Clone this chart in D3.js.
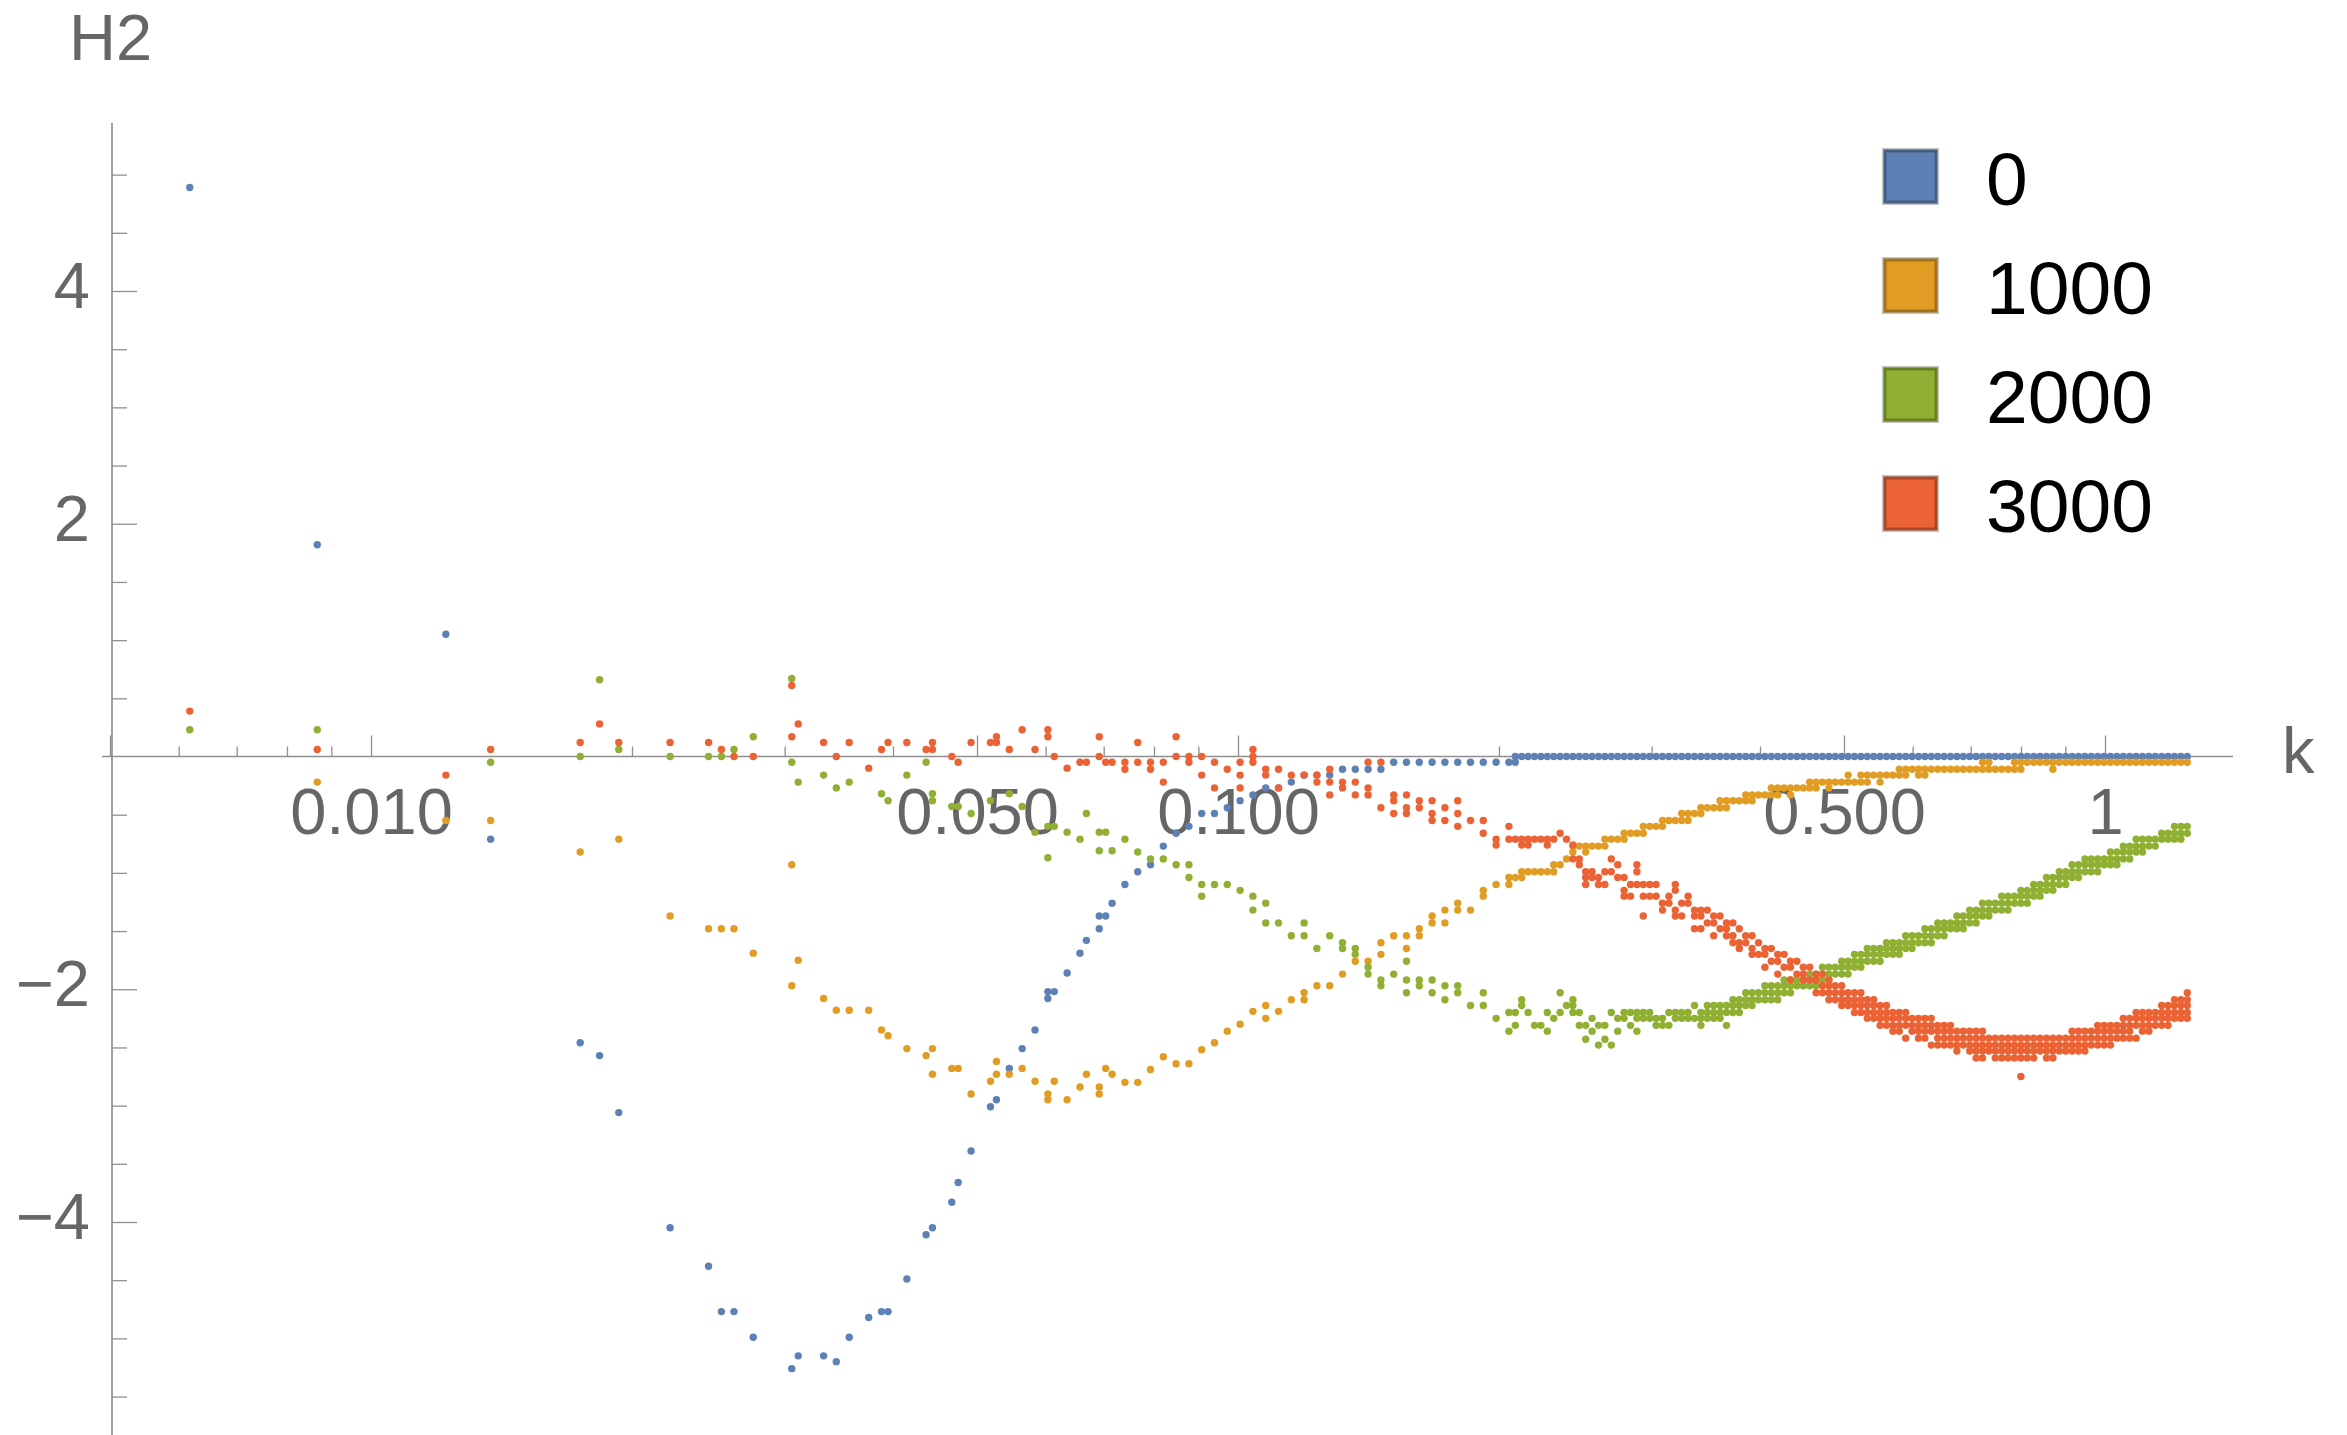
<!DOCTYPE html>
<html>
<head>
<meta charset="utf-8">
<script src="https://cdn.jsdelivr.net/npm/d3@7"></script>
<style>
  html, body { margin: 0; padding: 0; background: #fff; }
  svg { display: block; }
</style>
</head>
<body>
<svg id="chart"></svg>
<script>
// legend / series
const seriesNames = ['0', '1000', '2000', '3000'];
const seriesColors = ['#5E81B5', '#E19C24', '#8FB032', '#EB6235'];

// ticks
const xMajor = [0.005, 0.01, 0.05, 0.1, 0.5, 1];
const xMajorLabels = ['', '0.010', '0.050', '0.100', '0.500', '1'];
const xMinor = [0.006, 0.007, 0.008, 0.009, 0.02, 0.03, 0.04, 0.06, 0.07, 0.08, 0.09,
                0.2, 0.3, 0.4, 0.6, 0.7, 0.8, 0.9];
const yMajor = [-4, -2, 2, 4];
const yMinor = [-5.5, -5, -4.5, -3.5, -3, -2.5, -1.5, -1, -0.5, 0.5, 1, 1.5, 2.5, 3, 3.5, 4.5, 5];

// low-k points, [k, H2]
const blueLow = [[0.00618, 4.89], [0.00867, 1.82], [0.0122, 1.05], [0.01374, -0.71], [0.01743, -2.46],
  [0.01835, -2.57], [0.01931, -3.06], [0.02213, -4.05], [0.02451, -4.38], [0.02536, -4.77], [0.02622, -4.77],
  [0.0276, -4.99], [0.03057, -5.26], [0.0311, -5.15], [0.03327, -5.15], [0.03441, -5.2], [0.03561, -4.99],
  [0.0375, -4.82], [0.0388, -4.77], [0.03948, -4.77], [0.0415, -4.49], [0.04368, -4.11], [0.04442, -4.05],
  [0.04676, -3.83], [0.04756, -3.66], [0.04922, -3.39], [0.05182, -3.01], [0.05265, -2.95], [0.05448, -2.68],
  [0.05637, -2.51], [0.05833, -2.35], [0.06035, -2.02], [0.06035, -2.08], [0.06139, -2.02], [0.06352, -1.86],
  [0.06573, -1.69], [0.06686, -1.58], [0.06918, -1.37], [0.06918, -1.48], [0.07037, -1.37], [0.07158, -1.26]];
const orangeLow = [[0.00867, -0.22], [0.0122, -0.55], [0.01374, -0.55], [0.01743, -0.82], [0.01931, -0.71],
  [0.02213, -1.37], [0.02451, -1.48], [0.02536, -1.48], [0.02622, -1.48], [0.0276, -1.69], [0.03057, -0.93],
  [0.03057, -1.97], [0.0311, -1.75], [0.03327, -2.08], [0.03441, -2.18], [0.03561, -2.18], [0.0375, -2.18],
  [0.0388, -2.35], [0.03948, -2.4], [0.0415, -2.51], [0.04368, -2.57], [0.04442, -2.51], [0.04442, -2.73],
  [0.04676, -2.68], [0.04756, -2.68], [0.04922, -2.9], [0.05182, -2.79], [0.05265, -2.62], [0.05265, -2.73],
  [0.05448, -2.73], [0.05637, -2.68], [0.05833, -2.79], [0.06035, -2.9], [0.06035, -2.95], [0.06139, -2.79],
  [0.06352, -2.95], [0.06573, -2.84], [0.06686, -2.73], [0.06918, -2.84], [0.06918, -2.9], [0.07037, -2.68],
  [0.07158, -2.73]];
const greenLow = [[0.00618, 0.23], [0.00867, 0.23], [0.01374, -0.05], [0.01743, 0.0], [0.01835, 0.66],
  [0.01931, 0.06], [0.02213, 0.0], [0.02451, 0.0], [0.02536, 0.0], [0.02622, 0.06], [0.0276, 0.17],
  [0.03057, 0.67], [0.03057, -0.05], [0.0311, -0.22], [0.03327, -0.16], [0.03441, -0.27], [0.03561, -0.22],
  [0.0388, -0.32], [0.03948, -0.38], [0.0415, -0.16], [0.04368, -0.05], [0.04442, -0.32], [0.04442, -0.38],
  [0.04676, -0.43], [0.04756, -0.43], [0.04922, -0.49], [0.05182, -0.38], [0.05448, -0.32], [0.05637, -0.43],
  [0.05833, -0.65], [0.06035, -0.6], [0.06035, -0.87], [0.06139, -0.6], [0.06352, -0.65], [0.06573, -0.71],
  [0.06686, -0.49], [0.06918, -0.65], [0.06918, -0.81], [0.07037, -0.65], [0.07158, -0.81]];
const redLow = [[0.00618, 0.39], [0.00867, 0.06], [0.0122, -0.16], [0.01374, 0.06], [0.01743, 0.12],
  [0.01835, 0.28], [0.01931, 0.12], [0.02213, 0.12], [0.02451, 0.12], [0.02536, 0.06], [0.02622, 0.0],
  [0.0276, 0.0], [0.03057, 0.61], [0.03057, 0.17], [0.0311, 0.28], [0.03327, 0.12], [0.03441, 0.0],
  [0.03561, 0.12], [0.0375, -0.1], [0.0388, 0.06], [0.03948, 0.12], [0.0415, 0.12], [0.04368, 0.06],
  [0.04442, 0.06], [0.04442, 0.12], [0.04676, 0.0], [0.04756, -0.05], [0.04922, 0.12], [0.05182, 0.12],
  [0.05265, 0.17], [0.05265, 0.12], [0.05448, 0.06], [0.05637, 0.23], [0.05833, 0.06], [0.06035, 0.23],
  [0.06035, 0.17], [0.06139, 0.0], [0.06352, -0.1], [0.06573, -0.05], [0.06686, -0.05], [0.06918, 0.17],
  [0.06918, 0.0], [0.07037, -0.05], [0.07158, -0.05]];

// high-k columns: shared k values, then the H2 values seen in each column
const kHigh = [0.07406, 0.07662, 0.07927, 0.08201, 0.08484, 0.08778, 0.09081, 0.09395, 0.0972, 0.10056,
  0.10404, 0.10764, 0.11136, 0.11521, 0.11919, 0.12331, 0.12758, 0.13199, 0.13655, 0.14127,
  0.14616, 0.15121, 0.15644, 0.16185, 0.16745, 0.17324, 0.17923, 0.18542, 0.19184, 0.19847,
  0.20533, 0.21243, 0.21978, 0.22738, 0.23524, 0.24337, 0.25179, 0.26049, 0.2695, 0.27882,
  0.28846, 0.29843, 0.30875, 0.31943, 0.33047, 0.3419, 0.35372, 0.36595, 0.37861, 0.3917,
  0.40524, 0.41926, 0.43375, 0.44875, 0.46427, 0.48032, 0.49693, 0.51411, 0.53189, 0.55028,
  0.56931, 0.58899, 0.60936, 0.63043, 0.65223, 0.67478, 0.69811, 0.72225, 0.74723, 0.77306,
  0.79979, 0.82745, 0.85606, 0.88566, 0.91629, 0.94797, 0.98075, 1.01466, 1.04975, 1.08605,
  1.1236, 1.16245, 1.20265, 1.24424];
const blueHigh = [-1.1, -0.99, -0.93, -0.77, -0.66, -0.6, -0.49, -0.49, -0.44, -0.38,
  -0.33, -0.27, -0.27, -0.22, -0.16, -0.16, -0.16, -0.11, -0.11, -0.11,
  -0.11, -0.05, -0.05, -0.05, -0.05, -0.05, -0.05, -0.05, -0.05, -0.05,
  -0.05, 0, 0, 0, 0, 0, 0, 0, 0, 0,
  0, 0, 0, 0, 0, 0, 0, 0, 0, 0,
  0, 0, 0, 0, 0, 0, 0, 0, 0, 0,
  0, 0, 0, 0, 0, 0, 0, 0, 0, 0,
  0, 0, 0, 0, 0, 0, 0, 0, 0, 0,
  0, 0, 0, 0];
const orangeHigh = [[-2.8], [-2.8], [-2.69], [-2.58], [-2.64], [-2.64], [-2.52], [-2.46], [-2.36], [-2.3],
  [-2.19], [-2.14, -2.25], [-2.19], [-2.09], [-2.03, -2.09], [-1.97], [-1.97], [-1.87], [-1.76], [-1.76],
  [-1.6, -1.7], [-1.54], [-1.54, -1.65], [-1.48, -1.54], [-1.37, -1.43], [-1.32, -1.43], [-1.26, -1.32], [-1.32], [-1.15, -1.2], [-1.1],
  [-1.04, -1.1], [-0.99, -1.04], [-0.99], [-0.99], [-0.93], [-0.77, -0.82], [-0.77, -0.82], [-0.77], [-0.71], [-0.66, -0.71],
  [-0.66], [-0.6], [-0.55, -0.6], [-0.55], [-0.49, -0.55], [-0.44, -0.49], [-0.44], [-0.38, -0.44], [-0.38], [-0.33, -0.38],
  [-0.33], [-0.27, -0.33], [-0.27, -0.33], [-0.27], [-0.22, -0.27], [-0.22, -0.27], [-0.22], [-0.22], [-0.16, -0.22], [-0.16, -0.22],
  [-0.16], [-0.11, -0.16], [-0.11, -0.16], [-0.11], [-0.11], [-0.11], [-0.11], [-0.05, -0.11], [-0.11], [-0.11],
  [-0.05, -0.11], [-0.05], [-0.05], [-0.05], [-0.05], [-0.05], [-0.05], [-0.05], [-0.05], [-0.05],
  [-0.05], [-0.05], [-0.05], [-0.05]];
const greenHigh = [[-0.71], [-0.82], [-0.88], [-0.88], [-0.93], [-0.93, -1.04], [-1.1, -1.2], [-1.1], [-1.1], [-1.15],
  [-1.2, -1.32], [-1.26, -1.43], [-1.43], [-1.54], [-1.43, -1.54], [-1.65], [-1.54], [-1.6, -1.65], [-1.65, -1.7], [-1.81, -1.87],
  [-1.92, -1.97], [-1.87], [-1.76, -1.92, -2.03], [-1.92, -1.97], [-1.92, -2.03], [-1.97, -2.09], [-1.97, -2.03], [-2.14], [-2.03, -2.14], [-2.25],
  [-2.2, -2.36], [-2.09, -2.14], [-2.31], [-2.2, -2.36], [-2.03, -2.2], [-2.09, -2.14, -2.2], [-2.31, -2.43], [-2.31, -2.48], [-2.2, -2.48], [-2.2, -2.25],
  [-2.2, -2.25, -2.36], [-2.2, -2.25], [-2.25, -2.31], [-2.2, -2.25], [-2.2, -2.25], [-2.2, -2.25, -2.31], [-2.14, -2.2, -2.25], [-2.14, -2.2, -2.31], [-2.09, -2.14, -2.2], [-2.03, -2.09, -2.14],
  [-1.97, -2.03, -2.09], [-1.97, -2.03, -2.09], [-1.92, -1.97, -2.03], [-1.87, -1.92, -1.97], [-1.87, -1.92, -1.97], [-1.81, -1.87, -1.92], [-1.76, -1.81, -1.87], [-1.7, -1.76, -1.81], [-1.65, -1.7, -1.76], [-1.65, -1.7, -1.76],
  [-1.6, -1.65, -1.7], [-1.54, -1.6, -1.65], [-1.54, -1.6], [-1.48, -1.54, -1.6], [-1.43, -1.48, -1.54], [-1.37, -1.43, -1.48], [-1.32, -1.37, -1.43], [-1.26, -1.32, -1.37], [-1.26, -1.32], [-1.2, -1.26, -1.32],
  [-1.15, -1.2, -1.26], [-1.1, -1.15, -1.2], [-1.04, -1.1, -1.15], [-0.99, -1.04, -1.1], [-0.93, -0.99, -1.04], [-0.88, -0.93, -0.99], [-0.88, -0.93, -0.99], [-0.82, -0.88, -0.93], [-0.77, -0.82, -0.88], [-0.71, -0.77, -0.82],
  [-0.71, -0.77], [-0.66, -0.71], [-0.6, -0.66, -0.71], [-0.6, -0.66]];
const redHigh = [[-0.05, -0.11], [-0.05, 0.12], [-0.05, -0.11], [-0.05, -0.22], [0.0, 0.17], [0.0, -0.05], [0.0, -0.16], [-0.05, -0.27], [-0.11], [-0.05, -0.16, -0.27],
  [0.0, -0.05, 0.06], [-0.11, -0.16], [-0.11, -0.27], [-0.16], [-0.16], [-0.16, -0.22], [-0.11, -0.22, -0.33], [-0.22, -0.27], [-0.22, -0.33], [-0.05, -0.27, -0.33],
  [-0.05, -0.44], [-0.33, -0.38, -0.49], [-0.33, -0.44, -0.49], [-0.38, -0.44], [-0.38, -0.49, -0.55], [-0.44, -0.55], [-0.38, -0.49, -0.6], [-0.55], [-0.55, -0.66], [-0.71, -0.76],
  [-0.6, -0.71], [-0.71, -0.76], [-0.71], [-0.71, -0.76], [-0.66], [-0.76, -0.88], [-0.99, -1.04, -1.1], [-1.04, -1.1], [-0.88, -0.99], [-1.04, -1.15, -1.2],
  [-0.93, -0.99, -1.1], [-1.1, -1.2], [-1.26, -1.32], [-1.1, -1.15, -1.32, -1.37], [-1.2, -1.26], [-1.32, -1.37, -1.48], [-1.37, -1.43, -1.54], [-1.43, -1.48, -1.54], [-1.48, -1.6, -1.65], [-1.54, -1.65, -1.7],
  [-1.65, -1.7, -1.81], [-1.7, -1.76, -1.87], [-1.76, -1.81, -1.92], [-1.81, -1.87, -1.92], [-1.87, -1.92, -2.03], [-1.92, -1.97, -2.03, -2.09], [-1.97, -2.03, -2.09, -2.14], [-2.03, -2.09, -2.14, -2.2], [-2.09, -2.14, -2.2, -2.25], [-2.14, -2.2, -2.25, -2.31],
  [-2.2, -2.25, -2.31, -2.36], [-2.2, -2.25, -2.31, -2.42], [-2.25, -2.31, -2.36, -2.42], [-2.25, -2.31, -2.36, -2.48], [-2.31, -2.36, -2.42, -2.48], [-2.36, -2.42, -2.48, -2.53], [-2.36, -2.42, -2.48, -2.53], [-2.36, -2.42, -2.48, -2.53, -2.59], [-2.42, -2.48, -2.53, -2.59], [-2.42, -2.48, -2.53, -2.59],
  [-2.42, -2.48, -2.53, -2.59, -2.75], [-2.42, -2.48, -2.53, -2.59], [-2.42, -2.48, -2.53, -2.59], [-2.42, -2.48, -2.53], [-2.36, -2.42, -2.48, -2.53], [-2.36, -2.42, -2.48, -2.53], [-2.31, -2.36, -2.42, -2.48], [-2.31, -2.36, -2.42, -2.48], [-2.25, -2.31, -2.36, -2.42], [-2.2, -2.25, -2.31, -2.42],
  [-2.2, -2.25, -2.31, -2.36], [-2.14, -2.2, -2.25, -2.31], [-2.09, -2.14, -2.2, -2.25], [-2.03, -2.09, -2.14, -2.2, -2.25]];

// in-between columns of the dense part (k > 0.2)
const kMid = [0.20885, 0.21607, 0.22355, 0.23128, 0.23927, 0.24754, 0.25611, 0.26495, 0.27412, 0.2836,
  0.2934, 0.30355, 0.31404, 0.3249, 0.33613, 0.34776, 0.35978, 0.37222, 0.3851, 0.39841,
  0.41219, 0.42645, 0.44118, 0.45644, 0.47223, 0.48855, 0.50545, 0.52292, 0.541, 0.55971,
  0.57907, 0.59909, 0.6198, 0.64124, 0.66341, 0.68635, 0.71008, 0.73463, 0.76004, 0.78631,
  0.8135, 0.84163, 0.87073, 0.90084, 0.932, 0.96422, 0.99756, 1.03205, 1.06774, 1.10467,
  1.14286, 1.18238, 1.22327];
const blueMid = [[0, -0.05], 0, 0, 0, 0, 0, 0, 0, 0, 0,
  0, 0, 0, 0, 0, 0, 0, 0, 0, 0,
  0, 0, 0, 0, 0, 0, 0, 0, 0, 0,
  0, 0, 0, 0, 0, 0, 0, 0, 0, 0,
  0, 0, 0, 0, 0, 0, 0, 0, 0, 0,
  0, 0, 0];
const orangeMid = [[-1.04], [-0.99], [-0.99], [-0.93, -0.99], [-0.88], [-0.77], [-0.77], [-0.71, -0.77], [-0.71], [-0.66],
  [-0.6, -0.66], [-0.6], [-0.55], [-0.49, -0.55], [-0.49], [-0.44], [-0.38, -0.44], [-0.38], [-0.33, -0.38], [-0.33],
  [-0.27, -0.33], [-0.27], [-0.27], [-0.22, -0.27], [-0.22], [-0.22], [-0.16, -0.22], [-0.16, -0.22], [-0.16], [-0.16],
  [-0.11, -0.16], [-0.11], [-0.11, -0.16], [-0.11], [-0.11], [-0.11], [-0.11], [-0.05, -0.11], [-0.11], [-0.05, -0.11],
  [-0.05], [-0.05], [-0.05, -0.11], [-0.05], [-0.05], [-0.05], [-0.05], [-0.05], [-0.05], [-0.05],
  [-0.05], [-0.05], [-0.05]];
const greenMid = [[-2.2, -2.31], [-2.2], [-2.31], [-2.25], [-2.14], [-2.2, -2.31], [-2.25, -2.36], [-2.31, -2.43], [-2.25, -2.36], [-2.2, -2.31],
  [-2.2, -2.25], [-2.25, -2.31], [-2.2, -2.31], [-2.2, -2.25], [-2.14, -2.25], [-2.14, -2.2, -2.25], [-2.14, -2.2, -2.25], [-2.09, -2.14, -2.2], [-2.03, -2.09, -2.14], [-2.03, -2.09],
  [-1.97, -2.03, -2.09], [-1.92, -1.97, -2.03], [-1.92, -1.97], [-1.87, -1.92, -1.97], [-1.81, -1.87, -1.92], [-1.81, -1.87], [-1.76, -1.81, -1.87], [-1.7, -1.76, -1.81], [-1.65, -1.7, -1.76], [-1.6, -1.65, -1.7],
  [-1.6, -1.65, -1.7], [-1.54, -1.6, -1.65], [-1.48, -1.54, -1.6], [-1.43, -1.48, -1.54], [-1.43, -1.48], [-1.37, -1.43, -1.48], [-1.32, -1.37, -1.43], [-1.26, -1.32, -1.37], [-1.2, -1.26, -1.32], [-1.2, -1.26],
  [-1.15, -1.2, -1.26], [-1.1, -1.15, -1.2], [-1.04, -1.1, -1.15], [-0.99, -1.04, -1.1], [-0.93, -0.99, -1.04], [-0.88, -0.93, -0.99], [-0.88, -0.93], [-0.82, -0.88, -0.93], [-0.77, -0.82, -0.88], [-0.71, -0.77, -0.82],
  [-0.71, -0.77], [-0.66, -0.71], [-0.6, -0.66, -0.71]];
const redMid = [[-0.71], [-0.71, -0.76], [-0.71], [-0.71], [-0.71], [-0.88, -0.93], [-0.99, -1.04], [-0.99, -1.1], [-0.93, -1.04], [-1.1, -1.2],
  [-1.1, -1.2, -1.37], [-1.1, -1.2], [-1.2, -1.26], [-1.26, -1.37], [-1.32, -1.37, -1.48], [-1.32, -1.43], [-1.37, -1.48], [-1.43, -1.54, -1.6], [-1.54, -1.6], [-1.6, -1.7],
  [-1.65, -1.76], [-1.7, -1.81], [-1.76, -1.87], [-1.81, -1.92], [-1.87, -1.97, -2.03], [-1.97, -2.03, -2.09], [-2.03, -2.09, -2.14], [-2.03, -2.09, -2.14, -2.2], [-2.09, -2.14, -2.2, -2.25], [-2.14, -2.2, -2.25, -2.31],
  [-2.2, -2.25, -2.31, -2.36], [-2.25, -2.31, -2.36], [-2.25, -2.31, -2.36, -2.42], [-2.31, -2.36, -2.42, -2.48], [-2.31, -2.36, -2.42, -2.48], [-2.36, -2.42, -2.48], [-2.36, -2.42, -2.48, -2.53, -2.59], [-2.42, -2.48, -2.53], [-2.42, -2.48, -2.53, -2.59], [-2.42, -2.48, -2.53, -2.59],
  [-2.42, -2.48, -2.53, -2.59], [-2.42, -2.48, -2.53], [-2.42, -2.48, -2.53, -2.59], [-2.42, -2.48, -2.53], [-2.36, -2.42, -2.48, -2.53], [-2.36, -2.42, -2.48], [-2.31, -2.36, -2.42, -2.48], [-2.31, -2.36, -2.42], [-2.25, -2.31, -2.36, -2.42], [-2.2, -2.25, -2.31, -2.36],
  [-2.2, -2.25, -2.31], [-2.14, -2.2, -2.25, -2.31], [-2.09, -2.14, -2.2, -2.25]];

(function() {
  const W = 2347, H = 1435;
  const FONT = '"Liberation Sans", Arial, Helvetica, sans-serif';
  const AXIS_COL = '#8f8f8f', LABEL_COL = '#666';

  const svg = d3.select('#chart').attr('width', W).attr('height', H)
    .attr('viewBox', `0 0 ${W} ${H}`).style('background', '#fff');

  const x = d3.scaleLog().domain([0.005, 1]).range([110, 2105]);
  const y = d3.scaleLinear().domain([-4, 4]).range([1222, 291]);

  // axis frame
  const xAxisLeft = 102, xAxisRight = 2233, yAxisX = 112, yAxisTop = 123, yAxisBottom = 1435;
  const y0 = y(0);

  svg.append('line')
    .attr('x1', xAxisLeft).attr('x2', xAxisRight).attr('y1', y0).attr('y2', y0)
    .attr('stroke', AXIS_COL).attr('stroke-width', 1.7);
  svg.append('line')
    .attr('x1', yAxisX).attr('x2', yAxisX).attr('y1', yAxisTop).attr('y2', yAxisBottom)
    .attr('stroke', AXIS_COL).attr('stroke-width', 1.7);

  function styleAxis(g) {
    g.select('.domain').remove();
    g.attr('font-family', FONT).attr('font-size', 65).attr('color', AXIS_COL);
    g.selectAll('line').attr('stroke-width', 1.3);
    g.selectAll('text').attr('fill', LABEL_COL);
  }

  // x ticks (pointing up, labels below)
  svg.append('g').attr('transform', `translate(0,${y0})`)
    .call(d3.axisBottom(x).tickValues(xMinor).tickSizeInner(-10).tickSizeOuter(0).tickFormat(''))
    .call(styleAxis);
  svg.append('g').attr('transform', `translate(0,${y0})`)
    .call(d3.axisBottom(x).tickValues(xMajor).tickSizeInner(-21).tickSizeOuter(0).tickPadding(31)
      .tickFormat((d, i) => xMajorLabels[i]))
    .call(styleAxis);

  // y ticks (pointing right, labels left)
  const fmtY = d => d < 0 ? '\u2212' + Math.abs(d) : String(d);
  svg.append('g').attr('transform', `translate(${yAxisX},0)`)
    .call(d3.axisLeft(y).tickValues(yMinor).tickSizeInner(-15).tickSizeOuter(0).tickFormat(''))
    .call(styleAxis);
  svg.append('g').attr('transform', `translate(${yAxisX},0)`)
    .call(d3.axisLeft(y).tickValues(yMajor).tickSizeInner(-25).tickSizeOuter(0).tickPadding(22).tickFormat(fmtY))
    .call(styleAxis)
    .call(g => g.selectAll('text').attr('dy', '0.257em'));

  // axis titles
  svg.append('text').attr('x', 69).attr('y', 60)
    .attr('font-family', FONT).attr('font-size', 65).attr('fill', LABEL_COL).text('H2');
  svg.append('text').attr('x', 2282).attr('y', 773)
    .attr('font-family', FONT).attr('font-size', 65).attr('fill', LABEL_COL).text('k');

  // points
  const lows = [blueLow, orangeLow, greenLow, redLow];
  const highs = [blueHigh, orangeHigh, greenHigh, redHigh];
  const mids = [blueMid, orangeMid, greenMid, redMid];
  const cols = (ks, vals) => ks.flatMap((k, i) => [].concat(vals[i]).map(v => ({ k, v })));
  const plot = svg.append('g');
  lows.forEach((low, s) => {
    const pts = low.map(([k, v]) => ({ k, v }))
      .concat(cols(kHigh, highs[s]), cols(kMid, mids[s]));
    plot.append('g').attr('fill', seriesColors[s])
      .selectAll('circle').data(pts).join('circle')
      .attr('cx', d => x(d.k)).attr('cy', d => y(d.v)).attr('r', 3.7);
  });

  // legend
  const lg = svg.append('g');
  seriesNames.forEach((name, i) => {
    const top = 148 + i * 109;
    lg.append('rect').attr('x', 1882).attr('y', top).attr('width', 57).attr('height', 57)
      .attr('fill', '#c2c2c2');
    lg.append('rect').attr('x', 1885).attr('y', top + 3).attr('width', 51).attr('height', 51)
      .attr('fill', seriesColors[i])
      .attr('stroke', d3.color(seriesColors[i]).darker(0.9)).attr('stroke-width', 3);
    lg.append('text').attr('x', 1986).attr('y', top + 57)
      .attr('font-family', FONT).attr('font-size', 75).attr('fill', '#000').text(name);
  });
})();
</script>
</body>
</html>
